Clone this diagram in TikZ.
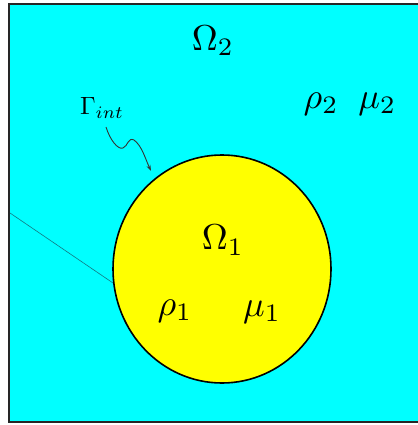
\documentclass[tikz,border=0pt]{standalone}
\usetikzlibrary{arrows.meta}
\definecolor{aqua}{RGB}{0,255,255}
\definecolor{sun}{RGB}{255,255,0}
\definecolor{teal2}{RGB}{20,120,130}
\begin{document}
\begin{tikzpicture}[x=1pt,y=-1pt,
  lbl/.style={inner sep=0pt,scale=3.6},
  slbl/.style={inner sep=0pt,scale=2.5}]
\useasboundingbox (0,0) rectangle (417,425);
\fill[white] (0,0) rectangle (417,425);
\filldraw[fill=aqua,draw=black!85,line width=2pt] (9,4) rectangle (430,422);
\coordinate (c) at (222,269);
\filldraw[fill=sun,draw=black,line width=1.6pt] (c) ellipse [x radius=109,y radius=114];
\coordinate (ls) at (10,213);
\coordinate (le) at (113,283);
\draw[teal2,line width=0.6pt] (ls) -- (le);
\node[lbl] (o2) at (213,41) {$\Omega_2$};
\node[lbl] (rm2) at (350,104) {$\rho_2\;\;\mu_2$};
\node[slbl] (g) at (102,108) {$\Gamma_{int}$};
\coordinate (as) at (106,127);
\coordinate (ae) at (151,171);
\draw[black!80,line width=0.9pt,-{Stealth[length=6pt,width=4pt]}] (as) .. controls (110,140) and (118,150) .. (123,148)
  .. controls (128,146) and (128,137) .. (134,140) .. controls (142,146) and (145,158) .. (ae);
\node[lbl] (o1) at (223,240) {$\Omega_1$};
\node[lbl] (r1) at (175,311) {$\rho_1$};
\node[lbl] (m1) at (262,312) {$\mu_1$};
\end{tikzpicture}
\end{document}
